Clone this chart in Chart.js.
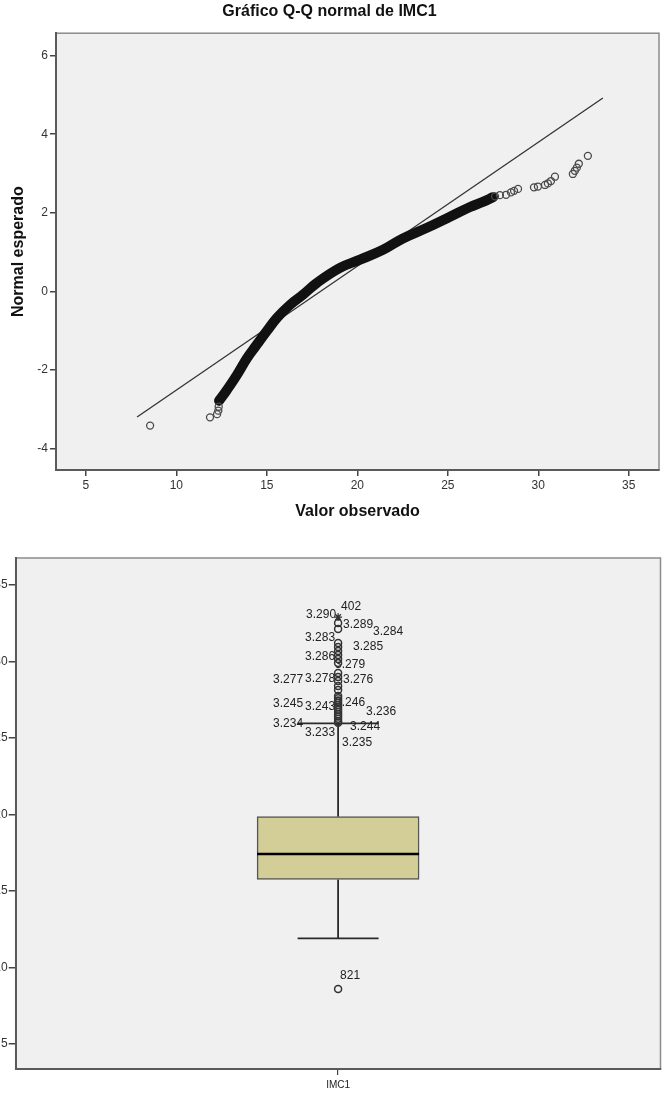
<!DOCTYPE html>
<html>
<head>
<meta charset="utf-8">
<title>Gráfico Q-Q normal de IMC1</title>
<script src="https://cdn.jsdelivr.net/npm/chart.js@4.4.1/dist/chart.umd.min.js"></script>
<style>
  html, body { margin: 0; padding: 0; background: #fff; overflow: hidden; }
  body { width: 665px; height: 1099px; position: relative; }
  #qq { position: absolute; left: 0; top: 0; }
  #box { position: absolute; left: -34px; top: 545px; }
</style>
</head>
<body>
<canvas id="qq" width="665" height="530"></canvas>
<canvas id="box" width="700" height="554"></canvas>
<script>
var bandX = [12.36, 12.80, 13.35, 13.91, 14.40, 15.01, 15.56, 16.28, 17.00, 17.77, 19.04, 20.15, 21.42, 22.52, 23.85, 25.12, 26.23, 26.94, 27.50];
var bandY = [-2.78, -2.50, -2.12, -1.69, -1.38, -1.00, -0.67, -0.34, -0.08, 0.22, 0.60, 0.81, 1.06, 1.35, 1.62, 1.90, 2.15, 2.28, 2.40];
// isolated points in the tails
var tailX = [8.55, 11.86, 12.25, 12.32, 12.34, 27.61, 27.88, 28.22, 28.49, 28.66, 28.88, 29.76, 29.98, 30.37, 30.53, 30.70, 30.92, 31.91, 32.02, 32.13, 32.24, 32.74];
var tailY = [-3.41, -3.20, -3.12, -3.03, -2.93, 2.42, 2.45, 2.46, 2.52, 2.56, 2.61, 2.65, 2.67, 2.71, 2.75, 2.81, 2.92, 2.99, 3.07, 3.15, 3.25, 3.45];
// normal reference line
var refLineX = [7.83, 33.57];
var refLineY = [-3.19, 4.92];

// Box plot
var boxCategories = ['IMC1'];
var boxQ1 = [15.76];
var boxMedian = [17.42];
var boxQ3 = [19.86];
var whiskerLow = [11.91];
var whiskerHigh = [25.96];
var outlierValues = [32.52, 32.12, 31.21, 30.95, 30.69, 30.42, 30.16, 29.9, 29.25, 28.99, 28.73, 28.4, 28.14,
    27.75, 27.6, 27.45, 27.3, 27.15, 27.0, 26.85, 26.7, 26.55, 26.4, 26.25, 26.1, 26.0, 8.6];
var extremeValues = [32.9];
var caseLabels = ['402', '3.290', '3.289', '3.284', '3.283', '3.285', '3.286', '3.279', '3.277', '3.278', '3.276', '3.245', '3.243', '3.246', '3.236', '3.234', '3.233', '3.244', '3.235', '821'];
var caseValues = [32.9, 32.9, 32.12, 32.12, 31.21, 30.95, 30.42, 29.9, 28.73, 28.73, 28.73, 27.09, 27.09, 27.29, 26.7, 26.11, 26.11, 26.11, 26.11, 8.6];

// label placement (pixels from the point)
var labelDx = [13, -17, 20, 50, -18, 30, -18, 12, -50, -18, 20, -50, -18, 12, 43, -50, -18, 27, 19, 12];
var labelDy = [-10, -2, -4, 3, -5, 0, 2, 2, -1, -2, -1, -2, 1, 0, 0, 3, 12, 6, 22, -13];

var FONT = '"Liberation Sans", Arial, sans-serif';

function toPoints(xs, ys) {
    var pts = [];
    for (var i = 0; i < xs.length; i++) {
        pts.push({x: xs[i], y: ys[i]});
    }
    return pts;
}

//Grey plot background and frame
var plotBg = {
    id: 'plotBg',
    beforeDraw: function(chart) {
        var ctx = chart.ctx, a = chart.chartArea;
        ctx.save();
        ctx.fillStyle = '#f0f0f0';
        ctx.fillRect(a.left, a.top, a.right - a.left, a.bottom - a.top);
        ctx.strokeStyle = '#8c8c8c';
        ctx.lineWidth = 1.5;
        ctx.strokeRect(a.left, a.top, a.right - a.left, a.bottom - a.top);
        ctx.restore();
    }
};

var tickFont = {family: FONT, size: 12};
var titleFont = {family: FONT, size: 16, weight: 'bold'};

new Chart(document.getElementById('qq').getContext('2d'), {
    type: 'scatter',
    data: {
        datasets: [
            {
                type: 'line',
                data: toPoints(tailX, tailY),
                showLine: false,
                pointRadius: 3.5,
                pointBorderWidth: 1.3,
                pointBorderColor: '#4a4a4a',
                pointBackgroundColor: 'rgba(0,0,0,0)'
            },
            {
                type: 'line',
                data: toPoints(bandX, bandY),
                borderColor: '#111',
                borderWidth: 10,
                tension: 0.4,
                borderCapStyle: 'round',
                borderJoinStyle: 'round',
                pointRadius: 0,
                fill: false
            },
            {
                type: 'line',
                data: toPoints(refLineX, refLineY),
                borderColor: '#333',
                borderWidth: 1.3,
                pointRadius: 0,
                fill: false
            }
        ]
    },
    options: {
        responsive: false,
        animation: false,
        events: [],
        layout: {padding: {left: 0, right: 6, top: 0, bottom: 0}},
        plugins: {
            legend: {display: false},
            tooltip: {enabled: false},
            title: {
                display: true,
                text: 'Gráfico Q-Q normal de IMC1',
                color: '#111',
                font: titleFont,
                padding: {top: 2, bottom: 12}
            }
        },
        scales: {
            x: {
                type: 'linear',
                min: 3.35,
                max: 36.67,
                ticks: {stepSize: 5, includeBounds: false, font: tickFont, color: '#333', padding: 2, maxRotation: 0},
                grid: {drawOnChartArea: false, tickLength: 6, color: '#444', lineWidth: 1.5},
                border: {color: '#5a5a5a', width: 2},
                title: {display: true, text: 'Valor observado', color: '#111', font: titleFont, padding: {top: 0, bottom: 9}},
                afterFit: function(s) { s.height = 60; }
            },
            y: {
                type: 'linear',
                min: -4.54,
                max: 6.57,
                ticks: {stepSize: 2, includeBounds: false, font: tickFont, color: '#333', padding: 2},
                grid: {drawOnChartArea: false, tickLength: 6, color: '#444', lineWidth: 1.5},
                border: {color: '#5a5a5a', width: 2},
                title: {display: true, text: 'Normal esperado', color: '#111', font: titleFont, padding: {top: 9, bottom: 0}},
                afterFit: function(s) { s.width = 56; }
            }
        }
    },
    plugins: [plotBg]
});

//Whiskers, caps, case labels and median
var boxParts = {
    id: 'boxParts',
    beforeDatasetsDraw: function(chart) {
        var ctx = chart.ctx, x = chart.scales.x, y = chart.scales.y;
        ctx.save();
        ctx.strokeStyle = '#2a2a2a';
        ctx.lineWidth = 1.8;
        for (var i = 0; i < boxCategories.length; i++) {
            var cx = x.getPixelForValue(i);
            var capHalf = chart.getDatasetMeta(0).data[i].width / 4;
            var hi = y.getPixelForValue(whiskerHigh[i]);
            var lo = y.getPixelForValue(whiskerLow[i]);
            ctx.beginPath();
            ctx.moveTo(cx, y.getPixelForValue(boxQ3[i]));
            ctx.lineTo(cx, hi);
            ctx.moveTo(cx, y.getPixelForValue(boxQ1[i]));
            ctx.lineTo(cx, lo);
            ctx.moveTo(cx - capHalf, hi);
            ctx.lineTo(cx + capHalf, hi);
            ctx.moveTo(cx - capHalf, lo);
            ctx.lineTo(cx + capHalf, lo);
            ctx.stroke();
        }
        var c0 = x.getPixelForValue(0);
        ctx.font = '12px ' + FONT;
        ctx.fillStyle = '#222';
        ctx.textAlign = 'center';
        ctx.textBaseline = 'middle';
        for (var k = 0; k < caseLabels.length; k++) {
            ctx.fillText(caseLabels[k], c0 + labelDx[k], y.getPixelForValue(caseValues[k]) + labelDy[k]);
        }
        ctx.restore();
    },
    afterDatasetsDraw: function(chart) {
        var ctx = chart.ctx, y = chart.scales.y;
        ctx.save();
        ctx.strokeStyle = '#000';
        ctx.lineWidth = 2.5;
        for (var i = 0; i < boxCategories.length; i++) {
            var bar = chart.getDatasetMeta(0).data[i];
            var my = y.getPixelForValue(boxMedian[i]);
            ctx.beginPath();
            ctx.moveTo(bar.x - bar.width / 2, my);
            ctx.lineTo(bar.x + bar.width / 2, my);
            ctx.stroke();
        }
        ctx.restore();
    }
};

var boxRanges = [];
for (var b = 0; b < boxCategories.length; b++) {
    boxRanges.push([boxQ1[b], boxQ3[b]]);
}

new Chart(document.getElementById('box').getContext('2d'), {
    type: 'bar',
    data: {
        labels: boxCategories,
        datasets: [
            {
                type: 'bar',
                data: boxRanges,
                backgroundColor: '#d3ce97',
                borderColor: '#555',
                borderWidth: 1.5,
                borderSkipped: false,
                barThickness: 162
            },
            {
                type: 'line',
                data: outlierValues.map(function(v) { return {x: boxCategories[0], y: v}; }),
                showLine: false,
                pointRadius: 3.5,
                pointBorderWidth: 1.5,
                pointBorderColor: '#333',
                pointBackgroundColor: 'rgba(0,0,0,0)'
            },
            {
                type: 'line',
                data: extremeValues.map(function(v) { return {x: boxCategories[0], y: v}; }),
                showLine: false,
                pointStyle: 'star',
                pointRadius: 4,
                pointBorderWidth: 1.2,
                pointBorderColor: '#333'
            }
        ]
    },
    options: {
        responsive: false,
        animation: false,
        events: [],
        layout: {padding: {left: 0, right: 2, top: 13, bottom: 0}},
        plugins: {
            legend: {display: false},
            tooltip: {enabled: false}
        },
        scales: {
            x: {
                type: 'category',
                ticks: {font: {family: FONT, size: 10}, color: '#222', padding: 4},
                grid: {drawOnChartArea: false, offset: false, tickLength: 6, color: '#444', lineWidth: 1.2},
                border: {color: '#5a5a5a', width: 2},
                afterFit: function(s) { s.height = 30; }
            },
            y: {
                type: 'linear',
                min: 3.37,
                max: 36.76,
                ticks: {stepSize: 5, includeBounds: false, font: tickFont, color: '#333', padding: 1},
                grid: {drawOnChartArea: false, tickLength: 7, color: '#444', lineWidth: 1.5},
                border: {color: '#5a5a5a', width: 2},
                afterFit: function(s) { s.width = 49.7; }
            }
        }
    },
    plugins: [plotBg, boxParts]
});
</script>
</body>
</html>
